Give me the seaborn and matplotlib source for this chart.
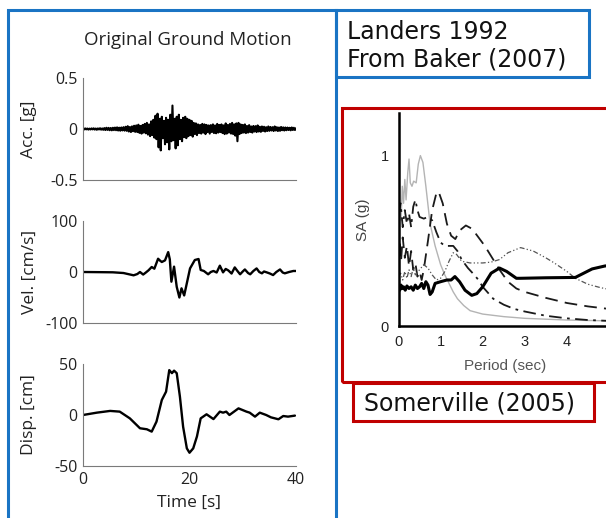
import numpy as np
import matplotlib
matplotlib.use("Agg")
import matplotlib.pyplot as plt
import seaborn as sns
from matplotlib.patches import Rectangle
from matplotlib.ticker import MultipleLocator, FixedLocator

# ---------------- data ----------------
acc_dt = 0.2
acc_values = [
    0.004, -0.005, 0.006, -0.004, 0.005, -0.006, 0.004, -0.005, 0.006, -0.004,
    0.007, -0.006, 0.005, -0.008, 0.006, -0.005, 0.008, -0.007, 0.006, -0.008,
    0.009, -0.010, 0.012, -0.009, 0.011, -0.012, 0.010, -0.013, 0.012, -0.011,
    0.014, -0.012, 0.016, -0.015, 0.013, -0.017, 0.015, -0.014, 0.018, -0.016,
    0.022, -0.018, 0.028, -0.025, 0.020, -0.030, 0.026, -0.022, 0.032, -0.028,
    0.035, -0.030, 0.042, -0.038, 0.030, -0.045, 0.040, -0.035, 0.050, -0.042,
    0.060, -0.055, 0.045, -0.070, 0.075, -0.060, 0.090, -0.085, 0.130, -0.100,
    0.150, -0.180, 0.100, -0.210, 0.120, -0.090, 0.080, -0.150, 0.110, -0.130,
    0.090, -0.200, 0.140, -0.120, 0.230, -0.110, 0.100, -0.190, 0.120, -0.160,
    0.140, -0.100, 0.090, -0.120, 0.110, -0.080, 0.120, -0.090, 0.100, -0.070,
    0.090, -0.060, 0.080, -0.075, 0.060, -0.050, 0.055, -0.060, 0.045, -0.040,
    0.040, -0.045, 0.050, -0.035, 0.045, -0.050, 0.040, -0.030, 0.035, -0.045,
    0.038, -0.030, 0.045, -0.040, 0.035, -0.042, 0.050, -0.035, 0.040, -0.030,
    0.045, -0.040, 0.035, -0.050, 0.055, -0.045, 0.040, -0.035, 0.050, -0.045,
    0.060, -0.050, 0.045, -0.065, 0.055, -0.120, 0.060, -0.050, 0.045, -0.040,
    0.040, -0.035, 0.045, -0.040, 0.030, -0.035, 0.038, -0.030, 0.025, -0.035,
    0.030, -0.025, 0.028, -0.030, 0.035, -0.025, 0.022, -0.028, 0.025, -0.020,
    0.022, -0.025, 0.018, -0.020, 0.025, -0.018, 0.020, -0.015, 0.018, -0.020,
    0.025, -0.015, 0.018, -0.020, 0.015, -0.018, 0.020, -0.012, 0.016, -0.015,
    0.015, -0.012, 0.014, -0.010, 0.012, -0.013, 0.015, -0.010, 0.012, -0.010,
    0.008,
]
acc_time = [i * acc_dt for i in range(len(acc_values))]

vel_time = [0, 3, 5.6, 7.6, 9.5, 10.2, 10.7, 11.3, 11.8, 12.3, 12.9, 13.4, 14.1, 14.5, 14.8,
            15.4, 16.0, 16.3, 16.6, 17.1, 17.6, 18.1, 18.5, 19.0, 19.5, 20.1, 21.0, 21.7, 22.1,
            22.7, 23.5, 24.0, 24.5, 25.1, 25.7, 26.3, 26.8, 27.3, 27.9, 28.5, 29.0, 29.5, 30.0,
            30.4, 31.0, 31.4, 32.0, 32.6, 33.1, 33.6, 34.0, 34.5, 35.1, 35.7, 36.3, 37.0, 37.5,
            37.9, 38.7, 39.5, 40.0]
vel_values = [0, -0.3, -0.6, -2, -6.5, -4, 0, -5, -1, 3.3, 9.8, 6.5, 26, 22, 19.6,
              22.8, 39, 25, -19, 10.5, -29, -50, -32, -46, -22, 7, 23.5, 25.5, 4,
              2, -4.5, 0, 2, -1, 12.4, -0.7, 6, 3, -3, 9, 2, -4.5, 1,
              5, -2, -4.5, 2, 7, 0, -2.6, 1, -0.7, -3, -6, 0, 5, -1,
              -2.6, 0, 2, 2]

disp_time = [0, 2.6, 5.1, 6.9, 8.8, 10.7, 12.0, 12.9, 13.8, 14.8, 15.6, 16.2, 16.7, 17.1,
             17.6, 18.2, 18.8, 19.5, 20.0, 20.7, 21.4, 22.1, 23.2, 24.5, 25.7, 26.3, 26.9,
             27.5, 29.2, 30.7, 31.3, 32.3, 33.2, 34.4, 35.3, 36.7, 37.6, 38.5, 39.8]
disp_values = [0, 2.3, 4, 3.3, -3.3, -13, -14, -16.3, -6.5, 14.7, 22.9, 44, 41, 43.5,
               41, 18, -11.5, -32.7, -37, -32.7, -21, -3.3, 0.7, -4, 3.3, 2.3, 3.3,
               0, 6.5, 3.3, 2.3, -1.6, 2.3, 0, -2.3, -4.2, -1, -1.6, -0.6]

acc_ticks, acc_ticklabels = [-0.5, 0, 0.5], ["-0.5", "0", "0.5"]
vel_ticks, vel_ticklabels = [-100, 0, 100], ["-100", "0", "100"]
disp_ticks, disp_ticklabels = [-50, 0, 50], ["-50", "0", "50"]
time_ticks, time_ticklabels = [0, 20, 40], ["0", "20", "40"]

# spectra (Somerville 2005)
grey_T = [0, 0.03, 0.06, 0.09, 0.12, 0.15, 0.18, 0.22, 0.25, 0.28, 0.32, 0.36, 0.42, 0.47,
          0.52, 0.58, 0.65, 0.75, 0.87, 1.0, 1.1, 1.2, 1.3, 1.4, 1.55, 1.7, 1.85, 2.0, 2.5,
          3.0, 3.5, 4.0, 5.0]
grey_SA = [0.55, 0.7, 0.62, 0.82, 0.72, 0.86, 0.74, 0.9, 0.98, 0.84, 0.82, 0.85, 0.84, 0.95,
           1.0, 0.96, 0.82, 0.6, 0.47, 0.36, 0.3, 0.25, 0.2, 0.16, 0.12, 0.09, 0.08, 0.07, 0.055,
           0.045, 0.04, 0.035, 0.03]
dash_T = [0, 0.03, 0.06, 0.1, 0.15, 0.2, 0.25, 0.3, 0.35, 0.4, 0.45, 0.5, 0.55, 0.6, 0.7,
          0.8, 0.9, 0.95, 1.05, 1.15, 1.25, 1.35, 1.45, 1.6, 1.75, 1.9, 2.05, 2.2, 2.4, 2.6,
          2.8, 3.0, 3.5, 4.0, 4.5, 5.0]
dash_SA = [0.4, 0.5, 0.38, 0.52, 0.4, 0.47, 0.35, 0.44, 0.33, 0.37, 0.29, 0.32, 0.27, 0.33, 0.5,
           0.68, 0.78, 0.79, 0.72, 0.6, 0.53, 0.51, 0.56, 0.59, 0.57, 0.52, 0.47, 0.41, 0.33, 0.26,
           0.22, 0.2, 0.165, 0.135, 0.115, 0.1]
dashdot_T = [0, 0.05, 0.1, 0.15, 0.2, 0.25, 0.3, 0.35, 0.4, 0.45, 0.5, 0.6, 0.7, 0.8, 0.9,
             1.0, 1.1, 1.2, 1.3, 1.4, 1.5, 1.65, 1.8, 1.9, 2.0, 2.25, 2.5, 2.75, 3.0, 3.5,
             4.0, 4.5, 5.0]
dashdot_SA = [0.65, 0.72, 0.58, 0.68, 0.6, 0.66, 0.58, 0.7, 0.74, 0.68, 0.64, 0.63, 0.64, 0.62, 0.55,
              0.49, 0.47, 0.47, 0.47, 0.44, 0.39, 0.34, 0.3, 0.27, 0.23, 0.16, 0.125, 0.1, 0.085, 0.06,
              0.045, 0.035, 0.03]
dashdotdot_T = [0, 0.05, 0.1, 0.15, 0.2, 0.25, 0.3, 0.35, 0.4, 0.5, 0.6, 0.7, 0.8, 0.9, 1.0,
                1.1, 1.2, 1.3, 1.38, 1.5, 1.7, 2.0, 2.2, 2.4, 2.6, 2.9, 3.2, 3.5, 3.7, 4.0,
                4.2, 4.5, 4.8, 5.0]
dashdotdot_SA = [0.29, 0.31, 0.27, 0.32, 0.28, 0.33, 0.29, 0.34, 0.3, 0.33, 0.36, 0.34, 0.3, 0.27, 0.28,
                 0.32, 0.38, 0.43, 0.42, 0.38, 0.37, 0.37, 0.375, 0.39, 0.43, 0.46, 0.44, 0.4, 0.37, 0.32,
                 0.28, 0.245, 0.225, 0.215]
thick_T = [0, 0.03, 0.06, 0.09, 0.12, 0.16, 0.2, 0.25, 0.3, 0.35, 0.4, 0.45, 0.5, 0.55, 0.6,
           0.65, 0.7, 0.75, 0.8, 0.87, 1.0, 1.15, 1.25, 1.34, 1.45, 1.58, 1.74, 1.86, 2.0, 2.2,
           2.4, 2.57, 2.8, 2.9, 3.5, 4.2, 4.4, 4.6, 4.9, 5.0]
thick_SA = [0.23, 0.21, 0.24, 0.22, 0.23, 0.21, 0.235, 0.22, 0.23, 0.21, 0.24, 0.22, 0.23, 0.25, 0.22,
            0.26, 0.24, 0.185, 0.2, 0.25, 0.26, 0.27, 0.27, 0.29, 0.26, 0.21, 0.18, 0.19, 0.23, 0.31,
            0.34, 0.32, 0.28, 0.28, 0.283, 0.285, 0.31, 0.335, 0.352, 0.355]
sa_xticks, sa_xticklabels = [0, 1, 2, 3, 4], ["0", "1", "2", "3", "4"]
sa_yticks, sa_yticklabels = [0, 1], ["0", "1"]

# ---------------- figure ----------------
W, H = 606, 518
sns.set_theme(style="white")
plt.rcParams['font.family'] = ['Open Sans', 'DejaVu Sans']

fig = plt.figure(figsize=(W / 100, H / 100), dpi=100)
fig.patch.set_facecolor("white")


def fx(px):
    return px / W


def fy(py):
    return 1 - py / H


def axes_px(x0, y_top, x1, y_bot):
    return fig.add_axes([fx(x0), fy(y_bot), (x1 - x0) / W, (y_bot - y_top) / H])


LEFT_SPINE = "#7a7a7a"
TXT = "#222222"


def style_left(ax, ylim, yticks, ylabels, show_x):
    ax.set_xlim(0, 40)
    ax.set_ylim(*ylim)
    for s in ["top", "right"]:
        ax.spines[s].set_visible(False)
    for s in ["left", "bottom"]:
        ax.spines[s].set_color(LEFT_SPINE)
        ax.spines[s].set_linewidth(0.8)
    ax.set_xticks(time_ticks)
    ax.set_xticklabels(time_ticklabels if show_x else [])
    ax.set_yticks(yticks)
    ax.set_yticklabels(ylabels)
    ax.tick_params(direction="in", length=3, width=0.7, color=LEFT_SPINE,
                   labelsize=11.5, labelcolor=TXT, pad=4)
    ax.set_xlabel("")
    ax.set_ylabel("")
    ax.patch.set_alpha(0)


ax_acc = axes_px(83, 78, 296, 180)
sns.lineplot(x=acc_time, y=acc_values, ax=ax_acc, color="black", lw=1.5, estimator=None)
style_left(ax_acc, (-0.5, 0.5), acc_ticks, acc_ticklabels, False)

ax_vel = axes_px(83, 221, 296, 323)
sns.lineplot(x=vel_time, y=vel_values, ax=ax_vel, color="black", lw=1.7, estimator=None)
style_left(ax_vel, (-100, 100), vel_ticks, vel_ticklabels, False)

ax_disp = axes_px(83, 364, 296, 466)
sns.lineplot(x=disp_time, y=disp_values, ax=ax_disp, color="black", lw=1.7, estimator=None)
style_left(ax_disp, (-50, 50), disp_ticks, disp_ticklabels, True)

for ax, lab in [(ax_acc, "Acc. [g]"), (ax_vel, "Vel. [cm/s]"), (ax_disp, "Disp. [cm]")]:
    ax.text((29.5 - 83) / 213, 0.5, lab, transform=ax.transAxes, rotation=90,
            ha="center", va="center", fontsize=12.5, color=TXT)

fig.text(fx(188), fy(45), "Original Ground Motion", ha="center", va="baseline",
         fontsize=13.5, color=TXT)
fig.text(fx(189), fy(503), "Time [s]", ha="center", va="center", fontsize=12.5, color=TXT)

# ---------------- spectra ----------------
ax_sa = axes_px(398.5, 113, 609, 326)
sa_font = ["Liberation Sans", "DejaVu Sans"]
sns.lineplot(x=grey_T, y=grey_SA, ax=ax_sa, color="#b4b4b4", lw=1.0, estimator=None, sort=False)
sns.lineplot(x=dash_T, y=dash_SA, ax=ax_sa, color="#1a1a1a", lw=1.3, estimator=None, sort=False,
             linestyle=(0, (7, 4)))
sns.lineplot(x=dashdot_T, y=dashdot_SA, ax=ax_sa, color="#1a1a1a", lw=1.3, estimator=None, sort=False,
             linestyle=(0, (7, 3, 1.5, 3)))
sns.lineplot(x=dashdotdot_T, y=dashdotdot_SA, ax=ax_sa, color="#555555", lw=0.9, estimator=None,
             sort=False, linestyle=(0, (4, 1.8, 1, 1.8, 1, 1.8)))
sns.lineplot(x=thick_T, y=thick_SA, ax=ax_sa, color="black", lw=2.2, estimator=None, sort=False)
ax_sa.set_xlim(0, 5)
ax_sa.set_ylim(0, 1.25)
for s in ["top", "right"]:
    ax_sa.spines[s].set_visible(False)
for s in ["left", "bottom"]:
    ax_sa.spines[s].set_color("black")
    ax_sa.spines[s].set_linewidth(1.8)
ax_sa.set_xticks(sa_xticks)
ax_sa.set_xticklabels(sa_xticklabels)
ax_sa.set_yticks(sa_yticks)
ax_sa.set_yticklabels(sa_yticklabels)
ax_sa.xaxis.set_minor_locator(MultipleLocator(0.5))
ax_sa.yaxis.set_minor_locator(FixedLocator([0.2, 1.2]))
ax_sa.tick_params(which="both", direction="in", length=3, width=0.7, color="#999999")
ax_sa.tick_params(axis="y", labelsize=10.5, labelcolor=TXT, pad=7)
ax_sa.tick_params(axis="x", labelsize=10.5, labelcolor=TXT, pad=6.5)
for lbl in ax_sa.get_xticklabels() + ax_sa.get_yticklabels():
    lbl.set_family(sa_font)
ax_sa.set_xlabel("")
ax_sa.set_ylabel("")
ax_sa.patch.set_alpha(0)
fig.text(fx(362.5), fy(220), "SA (g)", rotation=90, ha="center", va="center",
         fontsize=11, color="#444444", family=sa_font)
fig.text(fx(505), fy(366), "Period (sec)", ha="center", va="center",
         fontsize=11, color="#555555", family=sa_font)

# ---------------- boxes and captions ----------------
BLUE = "#1a74c4"
RED = "#c00000"


def box(x0, y0, x1, y1, color):
    fig.add_artist(Rectangle((fx(x0), fy(y1)), (x1 - x0) / W, (y1 - y0) / H,
                             transform=fig.transFigure, fill=False, ec=color, lw=2.2,
                             clip_on=False, zorder=10))


box(8, 10, 336, 540, BLUE)
box(336, 10, 589, 77, BLUE)
box(341.5, 108, 620, 381.5, RED)
box(353, 383, 594, 421, RED)

cap_font = ["DejaVu Sans"]
fig.text(fx(347), fy(39), "Landers 1992", ha="left", va="baseline", fontsize=17,
         color="#111111", family=cap_font)
fig.text(fx(347), fy(67), "From Baker (2007)", ha="left", va="baseline", fontsize=17,
         color="#111111", family=cap_font)
fig.text(fx(364), fy(411), "Somerville (2005)", ha="left", va="baseline", fontsize=17,
         color="#111111", family=cap_font)

fig.savefig("out.png", dpi=100, facecolor="white")
